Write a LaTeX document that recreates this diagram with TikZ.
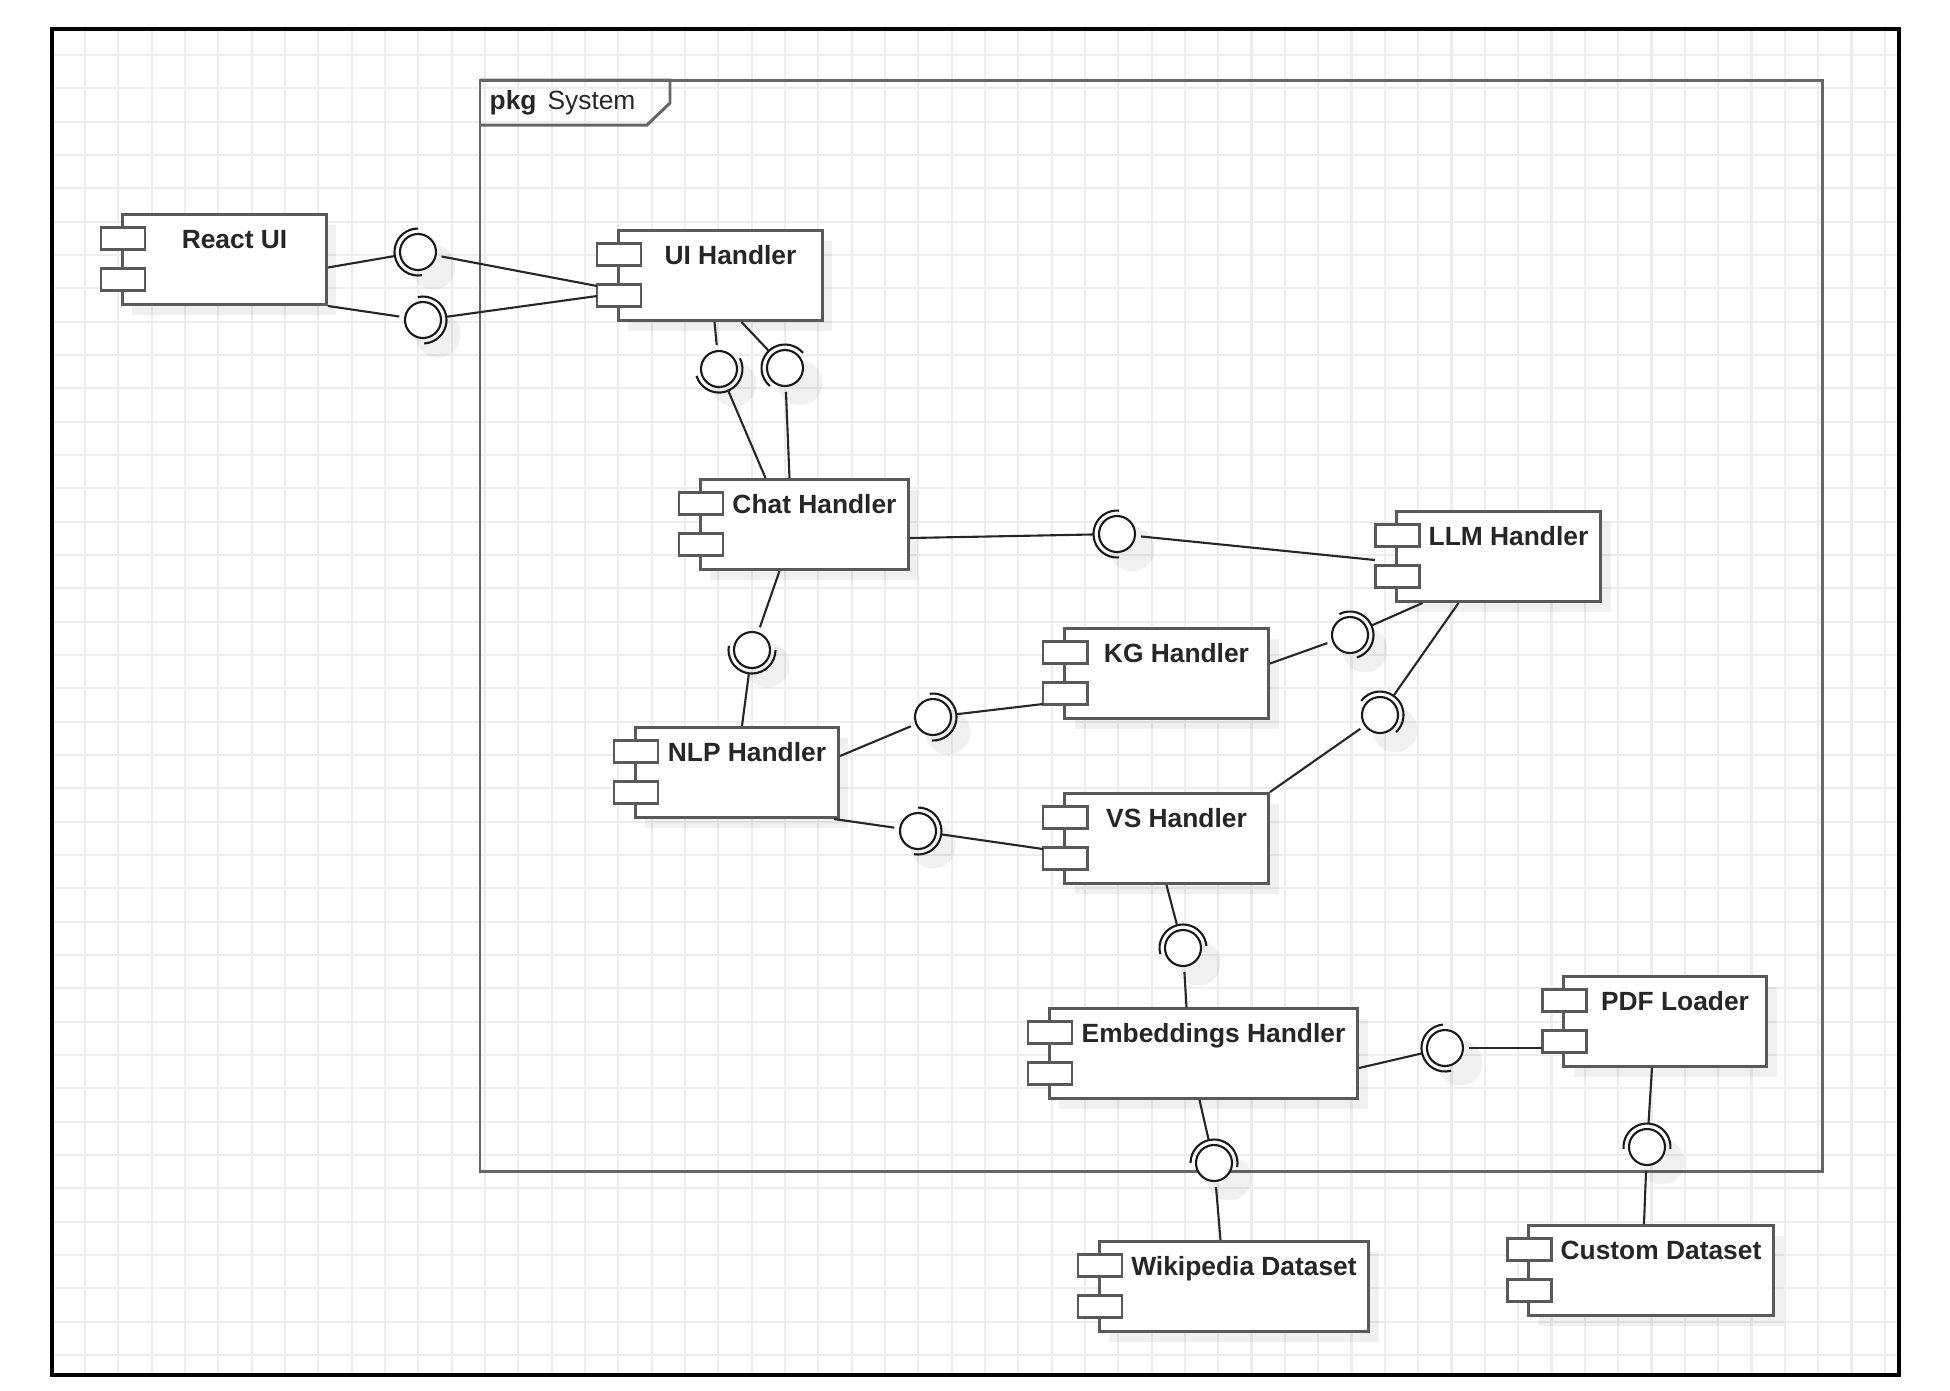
\documentclass[tikz,border=0pt]{standalone}
\usepackage{fontspec}
\setmainfont{Liberation Sans}
\usetikzlibrary{shadows}

\begin{document}
\begin{tikzpicture}[
    comp/.style={rectangle, draw=black!65, line width=0.85pt, fill=white, anchor=north west,
      minimum width=2.04cm, minimum height=0.9cm, inner ysep=0pt,
      text height=0.34cm, text depth=0.56cm, text=black!85,
      font=\fontsize{7.5}{9}\selectfont\bfseries,
      execute at begin node={\hspace*{0.2cm}},
      drop shadow={shadow xshift=0.1cm, shadow yshift=-0.1cm, fill=black, opacity=0.06}},
    port/.style={draw=black!65, line width=0.85pt, fill=white},
    iface/.style={circle, draw=black!90, line width=0.6pt, fill=white, minimum size=0.36cm,
      inner sep=0pt, outer sep=0.06cm,
      drop shadow={shadow xshift=0.12cm, shadow yshift=-0.12cm, shadow scale=1.25, fill=black, opacity=0.06}},
    sock/.style={draw=black!90, line width=0.6pt},
    wire/.style={draw=black!85, line width=0.6pt}]

    \useasboundingbox (0,0) rectangle (19.5,-13.9);

    % background grid and frame
    \begin{scope}
        \clip (0.52,-0.29) rectangle (18.99,-13.75);
        \draw[step=0.3333cm, black!7, line width=0.6pt, shift={(0.85,-0.55)}] (-1,-14) grid (19,1);
    \end{scope}
    \draw[line width=1.2pt] (0.52,-0.29) rectangle (18.99,-13.75);

    % package
    \draw[draw=black!60, line width=0.85pt] (4.80,-0.80) rectangle (18.22,-11.71);
    \draw[draw=black!60, line width=0.85pt] (4.80,-0.80) -- (6.70,-0.80) -- (6.70,-1.03) -- (6.47,-1.25) -- (4.80,-1.25);
    \node[anchor=west, inner sep=0pt, font=\fontsize{7.5}{9}\selectfont, text=black!85] (pkg) at (4.89,-1.03) {\textbf{pkg}\hspace{0.11cm}System};

    % components
    \node[comp] (react) at (1.21,-2.13) {React UI};
    \node[comp] (uih) at (6.17,-2.29) {UI Handler};
    \node[comp, minimum width=2.08cm] (chat) at (6.99,-4.78) {Chat Handler};
    \node[comp] (llm) at (13.95,-5.10) {LLM Handler};
    \node[comp] (kg) at (10.63,-6.27) {KG Handler};
    \node[comp, minimum width=2.03cm] (nlp) at (6.34,-7.26) {NLP Handler};
    \node[comp] (vs) at (10.63,-7.92) {VS Handler};
    \node[comp, minimum width=3.08cm] (emb) at (10.48,-10.07) {Embeddings Handler};
    \node[comp, minimum width=2.03cm] (pdf) at (15.62,-9.75) {PDF Loader};
    \node[comp, minimum width=2.69cm] (wiki) at (10.98,-12.40) {Wikipedia Dataset};
    \node[comp, minimum width=2.45cm] (custom) at (15.27,-12.24) {Custom Dataset};

    \foreach \n in {react,uih,chat,llm,kg,nlp,vs,emb,pdf,wiki,custom} {
        \draw[port] ([shift={(-0.2,-0.14)}]\n.north west) rectangle ++(0.44,-0.22);
        \draw[port] ([shift={(-0.2,-0.55)}]\n.north west) rectangle ++(0.44,-0.22);
    }

    % interfaces
    \node[iface] (b1) at (4.18,-2.52) {};
    \node[iface] (b2) at (4.23,-3.20) {};
    \node[iface] (b3) at (7.19,-3.69) {};
    \node[iface] (b4) at (7.85,-3.68) {};
    \node[iface] (b5) at (11.17,-5.34) {};
    \node[iface] (b6) at (7.52,-6.50) {};
    \node[iface] (b7) at (9.33,-7.17) {};
    \node[iface] (b8) at (9.18,-8.31) {};
    \node[iface] (b9) at (13.50,-6.35) {};
    \node[iface] (b10) at (13.80,-7.15) {};
    \node[iface] (b11) at (11.83,-9.48) {};
    \node[iface] (b12) at (14.45,-10.48) {};
    \node[iface] (b13) at (12.14,-11.63) {};
    \node[iface] (b14) at (16.47,-11.47) {};

    \foreach \b/\a in {b1/185, b2/8, b3/292, b4/135, b5/180, b6/265, b7/3, b8/-5,
                      b9/22, b10/48, b11/100, b12/190, b13/85, b14/90}
        \draw[sock] ([shift={(\a+95:0.235cm)}]\b.center) arc[start angle=\a+95, end angle=\a-95, radius=0.235cm];

    % connectors
    \path[wire] ([yshift=-0.08cm]react.east) edge (b1)
        (react.south east) edge (b2)
        (b1) edge ([shift={(-0.2,-0.57)}]uih.north west)
        (b2) edge ([shift={(-0.2,-0.67)}]uih.north west)
        ([xshift=-0.06cm]uih.south) edge (b3)
        ([xshift=0.21cm]uih.south) edge (b4)
        (b3) edge ([xshift=-0.39cm]chat.north)
        (b4) edge ([xshift=-0.15cm]chat.north)
        ([yshift=-0.135cm]chat.east) edge (b5)
        (b5) edge ([shift={(-0.2,-0.5)}]llm.north west)
        ([xshift=-0.25cm]chat.south) edge (b6)
        (b6) edge ([xshift=0.05cm]nlp.north)
        ([yshift=0.165cm]nlp.east) edge (b7)
        (b7) edge ([shift={(-0.2,-0.77)}]kg.north west)
        ([xshift=-0.06cm]nlp.south east) edge (b8)
        (b8) edge ([shift={(-0.2,-0.57)}]vs.north west)
        ([yshift=0.1cm]kg.east) edge (b9)
        (b9) edge ([xshift=-0.76cm]llm.south)
        ([xshift=-0.4cm]llm.south) edge (b10)
        (b10) edge (vs.north east)
        (vs.south) edge (b11)
        (b11) edge ([xshift=-0.17cm]emb.north)
        ([yshift=-0.145cm]emb.east) edge (b12)
        (b12) edge ([shift={(-0.2,-0.73)}]pdf.north west)
        ([xshift=-0.04cm]emb.south) edge (b13)
        (b13) edge ([xshift=-0.135cm]wiki.north)
        ([xshift=-0.13cm]pdf.south) edge (b14)
        (b14) edge ([xshift=-0.07cm]custom.north);
\end{tikzpicture}
\end{document}
